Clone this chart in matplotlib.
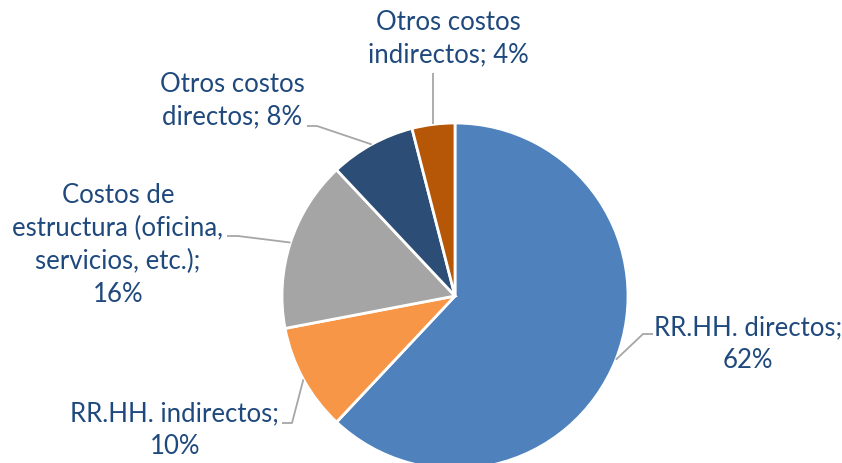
import matplotlib
matplotlib.use("Agg")
import matplotlib.pyplot as plt
import numpy as np

labels = ["RR.HH. directos", "RR.HH. indirectos", "Costos de\nestructura (oficina,\nservicios, etc.)", "Otros costos\ndirectos", "Otros costos\nindirectos"]
values = [62, 10, 16, 8, 4]
colors = ["#4F81BD", "#F79646", "#A5A5A5", "#2C4D75", "#B65708"]
label_texts = ["RR.HH. directos;\n62%", "RR.HH. indirectos;\n10%", "Costos de\nestructura (oficina,\nservicios, etc.);\n16%", "Otros costos\ndirectos; 8%", "Otros costos\nindirectos; 4%"]

W, H = 842, 463
fig = plt.figure(figsize=(W / 100, H / 100), dpi=100)
ax = fig.add_axes([0, 0, 1, 1])
ax.set_xlim(0, W)
ax.set_ylim(0, H)
ax.set_aspect("equal")
ax.axis("off")

cx, cy, R = 455, H - 296, 173
wedges, _ = ax.pie(values, colors=colors, startangle=90, counterclock=False,
                   center=(cx, cy), radius=R, frame=True,
                   wedgeprops=dict(edgecolor="white", linewidth=2))
ax.set_xlim(0, W)
ax.set_ylim(0, H)
ax.axis("off")

# label placements (text center, in pixel coords from top) and leader paths
text_pos = [(748, 344), (175, 430), (118, 245), (232, 101), (448, 39)]
# elbow points (from top coords): list of points from label side toward wedge
elbows = [
    [(653, 334), (643, 334)],
    [(282, 423), (292, 423)],
    [(227, 236), (238, 236)],
    [(307, 126), (317, 126)],
    [(432, 73)],
]

tc = "#1F497D"
for i, w in enumerate(wedges):
    ang = np.deg2rad((w.theta1 + w.theta2) / 2)
    ex = cx + R * np.cos(ang)
    ey = cy + R * np.sin(ang)
    pts = [(x, H - y) for x, y in elbows[i]] + [(ex, ey)]
    if i == 4:
        pts = [(ex, H - 73), (ex, ey)]
    xs, ys = zip(*pts)
    ax.plot(xs, ys, color="#A6A6A6", linewidth=1.3, solid_capstyle="butt")
    tx, ty = text_pos[i]
    ax.text(tx, H - ty, label_texts[i], ha="center", va="center",
            fontsize=18.5, family=["Lato", "DejaVu Sans"], color=tc,
            linespacing=1.38, multialignment="center")

fig.savefig("out.png", dpi=100, facecolor="white")
